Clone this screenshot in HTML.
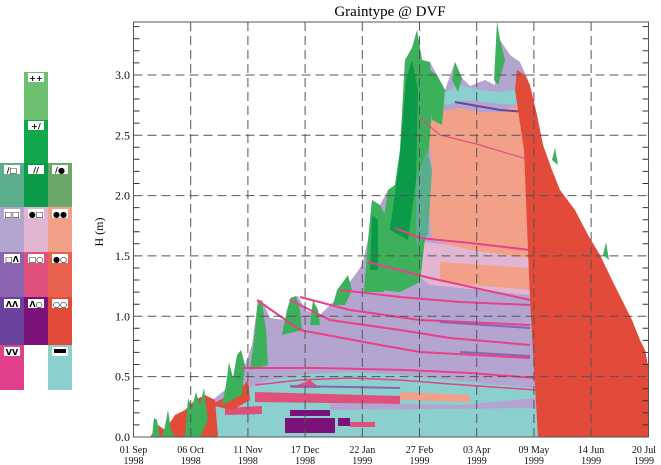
<!DOCTYPE html>
<html><head><meta charset="utf-8"><style>
html,body{margin:0;padding:0;background:#fff;width:661px;height:465px;overflow:hidden}
svg{display:block}
</style></head><body>
<svg width="661" height="465" viewBox="0 0 661 465" xmlns="http://www.w3.org/2000/svg" font-family="Liberation Serif, serif">
<g>
<rect x="24" y="72" width="24" height="48" fill="#6cc070"/>
<rect x="24" y="120" width="24" height="43" fill="#10a84c"/>
<rect x="0" y="163" width="24" height="44" fill="#5aae8c"/>
<rect x="24" y="163" width="24" height="44" fill="#0b9a48"/>
<rect x="48" y="163" width="24" height="44" fill="#6aa86a"/>
<rect x="0" y="207" width="24" height="45" fill="#b4a4d0"/>
<rect x="24" y="207" width="24" height="45" fill="#e2b6d2"/>
<rect x="48" y="207" width="24" height="45" fill="#f2a088"/>
<rect x="0" y="252" width="24" height="45" fill="#8a64ae"/>
<rect x="24" y="252" width="24" height="45" fill="#e0507c"/>
<rect x="48" y="252" width="24" height="45" fill="#e8604e"/>
<rect x="0" y="297" width="24" height="48" fill="#6a449c"/>
<rect x="24" y="297" width="24" height="48" fill="#7a127a"/>
<rect x="48" y="297" width="24" height="48" fill="#e24a3a"/>
<rect x="0" y="345" width="24" height="45" fill="#e2408c"/>
<rect x="48" y="345" width="24" height="45" fill="#8ccfcf"/>
<g fill="#fff">
<rect x="28" y="73" width="16" height="9"/><rect x="28" y="121" width="16" height="9"/>
<rect x="4" y="165" width="16" height="9"/><rect x="28" y="165" width="16" height="9"/><rect x="52" y="165" width="16" height="9"/>
<rect x="4" y="209" width="16" height="9"/><rect x="28" y="209" width="16" height="9"/><rect x="52" y="209" width="16" height="9"/>
<rect x="4" y="254" width="16" height="9"/><rect x="28" y="254" width="16" height="9"/><rect x="52" y="254" width="16" height="9"/>
<rect x="4" y="299" width="16" height="9"/><rect x="28" y="299" width="16" height="9"/><rect x="52" y="299" width="16" height="9"/>
<rect x="4" y="347" width="16" height="9"/><rect x="52" y="347" width="16" height="9"/>
</g>
<g font-family="DejaVu Sans, sans-serif" font-size="8" font-weight="bold" fill="#000" text-anchor="middle">
<text x="36" y="81">++</text><text x="36" y="129">+/</text>
<text x="12" y="173">/□</text><text x="36" y="173">//</text><text x="60" y="173">/●</text>
<text x="12" y="217">□□</text><text x="36" y="217">●□</text><text x="60" y="217">●●</text>
<text x="12" y="262">□Λ</text><text x="36" y="262">□○</text><text x="60" y="262">●○</text>
<text x="12" y="307">ΛΛ</text><text x="36" y="307">Λ○</text><text x="60" y="307">○○</text>
<text x="12" y="355">VV</text>
</g>
<rect x="54" y="349" width="12" height="4" fill="#000"/>
</g>

<text x="390" y="16" font-size="15" text-anchor="middle" fill="#000">Graintype @ DVF</text>
<text transform="translate(103,232) rotate(-90)" font-size="12" text-anchor="middle">H (m)</text>

<g>
<polygon fill="#b4a4d0" points="205,437 205,405 215,398 225,390 235,378 245,365 252,345 258,300 262,300 270,318 285,320 290,298 298,296 305,310 320,315 335,300 345,288 355,275 362,265 368,240 372,200 380,205 388,190 395,185 400,150 405,60 412,48 417,30 422,60 430,62 437,75 445,90 455,62 462,78 470,86 485,80 495,85 497,22 500,40 510,55 520,62 528,80 538,437"/>
<polygon fill="#e2b6d2" points="410,240 530,255 530,295 430,285 410,270"/>
<polygon fill="#f2a088" points="428,125 440,112 460,108 480,112 500,112 525,102 530,258 470,250 432,240 428,200 432,170"/>
<polygon fill="#f2a088" points="440,262 530,268 530,290 440,282"/>
<polygon fill="#8ccfcf" points="440,95 460,85 480,90 500,92 525,88 526,105 500,104 470,100 445,105"/>
<polyline fill="none" stroke="#6a449c" stroke-width="2" points="455,102 500,110 526,112"/>
<polygon fill="#8ccfcf" points="215,437 215,407 230,400 240,395 255,385 270,380 300,375 350,372 400,375 450,380 500,385 536,388 538,437"/>
<polygon fill="#e0507c" points="255,392 400,396 400,404 255,402"/>
<polygon fill="#e0507c" points="225,408 262,406 262,414 225,415"/>
<polygon fill="#e0507c" points="290,388 310,380 320,388"/>
<polygon fill="#f2a088" points="400,392 470,395 470,402 400,400"/>
<polygon fill="#b4a4d0" points="330,403 460,405 536,398 536,408 330,410"/>
<rect x="285" y="418" width="50" height="15" fill="#7a127a"/>
<rect x="290" y="410" width="40" height="6" fill="#7a127a"/>
<rect x="338" y="418" width="12" height="8" fill="#7a127a"/>
<rect x="350" y="422" width="25" height="5" fill="#e0507c"/>
<polygon fill="#e24a3a" points="150,437 158,425 165,430 175,415 185,410 195,400 205,395 215,400 218,437"/>
<polygon fill="#e24a3a" points="210,405 230,395 240,390 248,380 250,400 232,410"/>
<g fill="#3cb05a">
<polygon points="152,437 154,418 157,420 160,437"/>
<polygon points="162,437 165,426 168,410 171,430 175,437"/>
<polygon points="185,437 188,398 192,408 196,392 200,405 204,388 208,420 200,437"/>
<polygon points="222,405 226,385 229,362 233,378 237,355 241,350 245,365 242,395"/>
<polygon points="250,370 254,340 258,300 262,302 266,330 268,365"/>
<polygon points="282,335 287,310 291,298 296,296 300,310 302,330"/>
<polygon points="310,325 313,300 318,310 320,325"/>
<polygon points="333,305 337,290 343,282 348,275 352,290 345,305"/>
<polygon points="364,292 368,240 372,200 380,205 385,215 384,292"/>
<polygon points="380,290 382,230 388,190 395,185 400,150 405,60 412,48 417,30 422,60 430,62 432,110 428,160 426,230 420,282 400,292"/>
<polygon points="430,70 437,75 445,90 442,125 432,120"/>
<polygon points="452,80 455,62 462,78 458,92"/>
<polygon points="494,80 497,22 500,40 505,60 498,85"/>
</g>
<g fill="#0b9a48">
<polygon points="390,230 400,155 406,80 412,60 418,90 416,180 408,240"/>
<polygon points="370,270 372,215 378,220 378,270"/>
</g>
<polygon fill="#5aae8c" points="416,180 427,150 432,170 428,235 416,245"/>
<g fill="none" stroke="#e8408a" stroke-width="2">
<polyline points="257,300 300,330 380,345 420,352 530,358"/>
<polyline points="290,300 330,320 400,330 450,338 530,345"/>
<polyline points="300,297 350,310 420,320 530,325"/>
<polyline points="340,290 400,297 460,302 530,305"/>
<polyline points="368,262 430,278 530,300"/>
<polyline points="395,228 420,238 470,243 530,250"/>
<polyline points="242,368 320,368 405,370 470,373 536,378"/>
<polyline points="420,118 440,135 480,145 530,160" stroke="#e0507c" stroke-width="1.2"/>
<polyline points="255,385 300,380 350,378 400,380 450,384 536,390" stroke-width="1.5"/>
</g>
<g fill="none" stroke="#8a64ae" stroke-width="2">
<polyline points="290,386 400,388"/>
<polyline points="440,322 530,328"/>
<polyline points="460,352 530,356"/>
</g>
<polygon fill="#e24a3a" points="517,70 525,75 530,85 537,115 543,145 552,170 560,190 575,210 588,235 600,255 612,280 622,300 632,320 640,340 645,350 648,365 649,437 538,437 530,300 524,150 515,90"/>
<polygon fill="#3cb05a" points="552,160 555,148 558,165"/>
<polygon fill="#3cb05a" points="603,255 606,242 609,260"/>
</g>

<g stroke="#555" stroke-width="1" stroke-dasharray="9,5" fill="none">
<line x1="190.7" y1="22" x2="190.7" y2="437"/>
<line x1="247.9" y1="22" x2="247.9" y2="437"/>
<line x1="305.1" y1="22" x2="305.1" y2="437"/>
<line x1="362.3" y1="22" x2="362.3" y2="437"/>
<line x1="419.5" y1="22" x2="419.5" y2="437"/>
<line x1="476.7" y1="22" x2="476.7" y2="437"/>
<line x1="533.9" y1="22" x2="533.9" y2="437"/>
<line x1="591.1" y1="22" x2="591.1" y2="437"/>
<line x1="133.5" y1="376.6" x2="648.5" y2="376.6"/>
<line x1="133.5" y1="316.3" x2="648.5" y2="316.3"/>
<line x1="133.5" y1="255.9" x2="648.5" y2="255.9"/>
<line x1="133.5" y1="195.6" x2="648.5" y2="195.6"/>
<line x1="133.5" y1="135.3" x2="648.5" y2="135.3"/>
<line x1="133.5" y1="75" x2="648.5" y2="75"/>
</g>
<rect x="133.5" y="22" width="515" height="415" fill="none" stroke="#555" stroke-width="1"/>
<g stroke="#333" stroke-width="1">
<path d="M133.5 424.9h6M133.5 412.9h6M133.5 400.8h6M133.5 388.7h6M133.5 364.5h6M133.5 352.4h6M133.5 340.4h6M133.5 328.3h6M133.5 304.2h6M133.5 292.1h6M133.5 280h6M133.5 268h6M133.5 243.8h6M133.5 231.7h6M133.5 219.7h6M133.5 207.6h6M133.5 183.5h6M133.5 171.4h6M133.5 159.3h6M133.5 147.2h6M133.5 123.1h6M133.5 111h6M133.5 99h6M133.5 86.9h6M133.5 62.9h6M133.5 50.8h6M133.5 38.7h6M133.5 26.6h6"/>
<path d="M648.5 424.9h-6M648.5 412.9h-6M648.5 400.8h-6M648.5 388.7h-6M648.5 364.5h-6M648.5 352.4h-6M648.5 340.4h-6M648.5 328.3h-6M648.5 304.2h-6M648.5 292.1h-6M648.5 280h-6M648.5 268h-6M648.5 243.8h-6M648.5 231.7h-6M648.5 219.7h-6M648.5 207.6h-6M648.5 183.5h-6M648.5 171.4h-6M648.5 159.3h-6M648.5 147.2h-6M648.5 123.1h-6M648.5 111h-6M648.5 99h-6M648.5 86.9h-6M648.5 62.9h-6M648.5 50.8h-6M648.5 38.7h-6M648.5 26.6h-6"/>
</g>
<g font-size="12" text-anchor="end" fill="#111">
<text x="130" y="441">0.0</text><text x="130" y="380.6">0.5</text><text x="130" y="320.3">1.0</text>
<text x="130" y="259.9">1.5</text><text x="130" y="199.6">2.0</text><text x="130" y="139.3">2.5</text><text x="130" y="79">3.0</text>
</g>
<g font-size="10" text-anchor="middle" fill="#111">
<text x="133.5" y="453">01 Sep</text><text x="133.5" y="464">1998</text>
<text x="190.7" y="453">06 Oct</text><text x="190.7" y="464">1998</text>
<text x="247.9" y="453">11 Nov</text><text x="247.9" y="464">1998</text>
<text x="305.1" y="453">17 Dec</text><text x="305.1" y="464">1998</text>
<text x="362.3" y="453">22 Jan</text><text x="362.3" y="464">1999</text>
<text x="419.5" y="453">27 Feb</text><text x="419.5" y="464">1999</text>
<text x="476.7" y="453">03 Apr</text><text x="476.7" y="464">1999</text>
<text x="533.9" y="453">09 May</text><text x="533.9" y="464">1999</text>
<text x="591.1" y="453">14 Jun</text><text x="591.1" y="464">1999</text>
<text x="644" y="453">20 Jul</text><text x="644" y="464">1999</text>
</g>
</svg>
</body></html>
